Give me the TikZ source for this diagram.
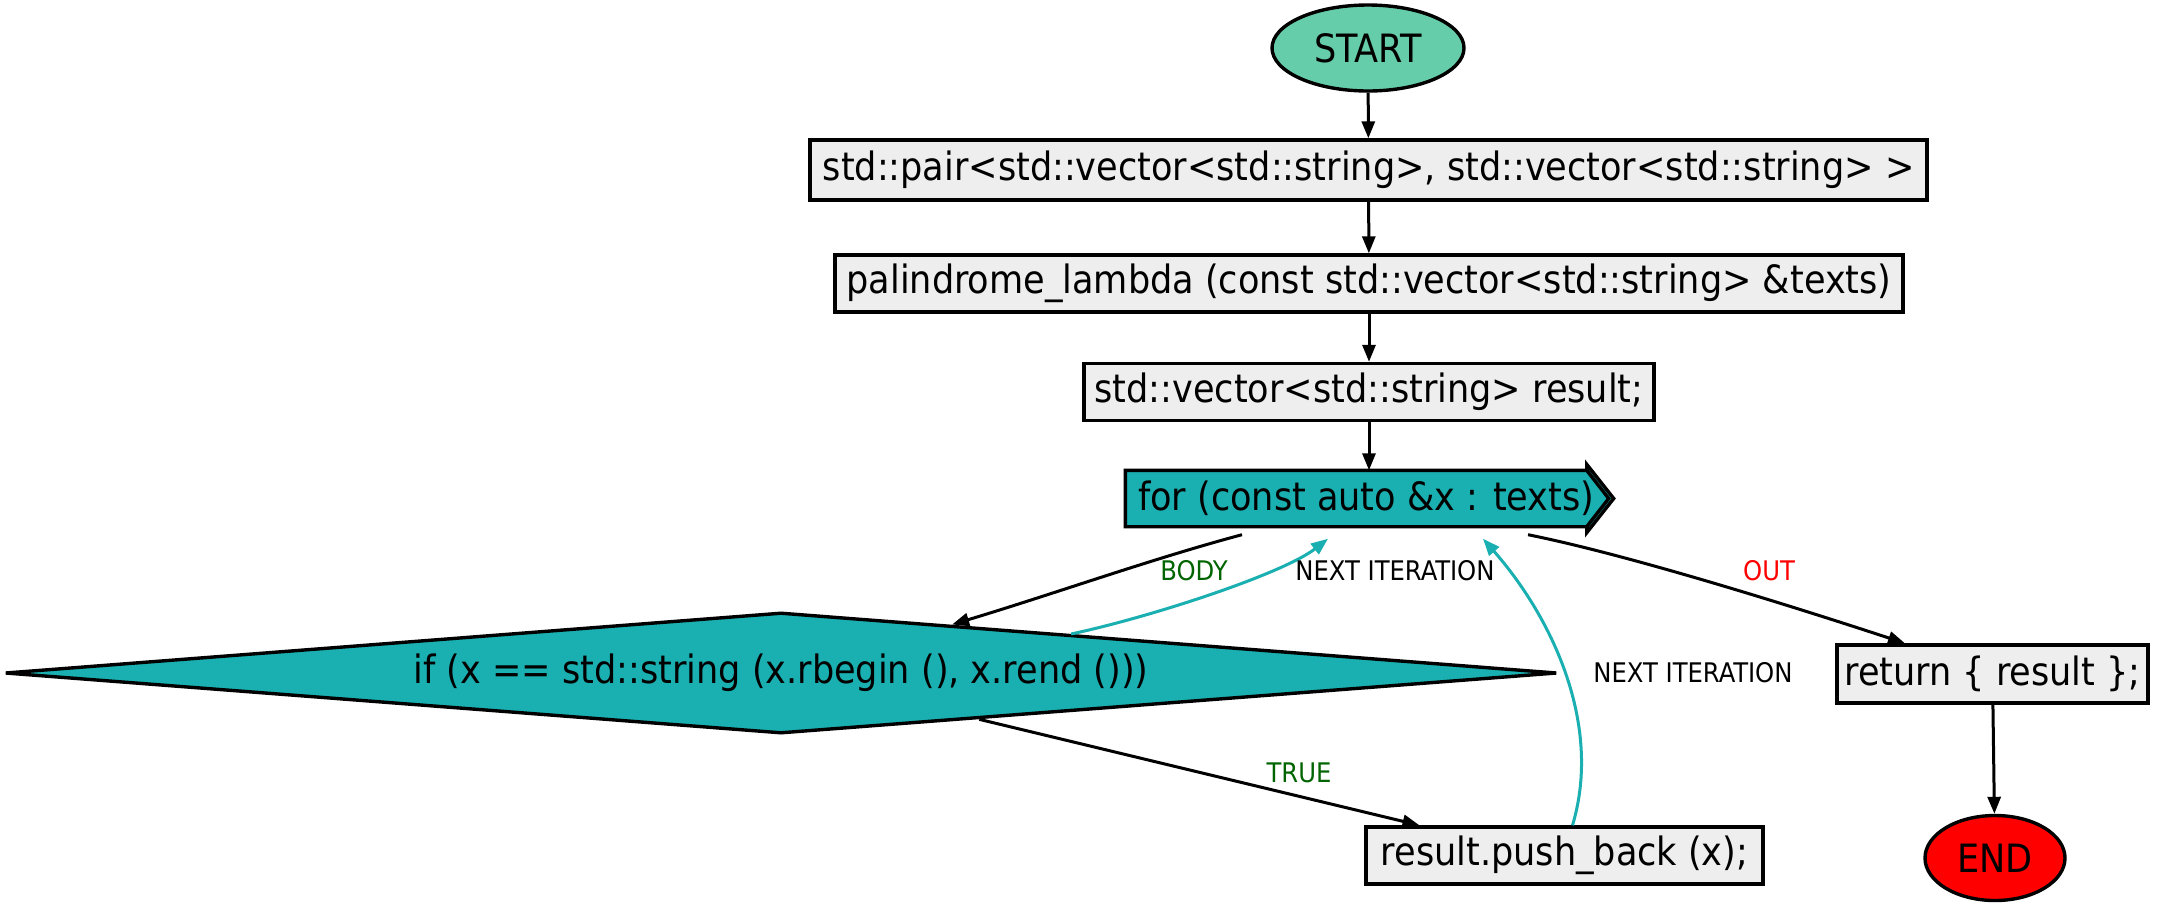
\documentclass[tikz,border=0pt]{standalone}
\usepackage{fontspec}
\setmainfont{DejaVu Sans Condensed}
\usetikzlibrary{arrows.meta,shapes.geometric,calc,backgrounds}
\definecolor{startfill}{HTML}{66CDAA}
\definecolor{boxfill}{HTML}{EEEEEE}
\definecolor{tealc}{HTML}{1AAFB0}
\definecolor{dgreen}{HTML}{006400}
\begin{document}
\begin{tikzpicture}[x=1pt,y=1pt,
  every node/.style={font=\fontsize{39}{46}\selectfont, inner sep=0pt, line width=3.4pt},
  stmt/.style={draw=black, fill=boxfill, rectangle},
  term/.style={draw=black, ellipse},
  lbl/.style={font=\fontsize{27}{32}\selectfont},
  edge/.style={line width=3pt, -{Triangle[length=17pt,width=13pt]}},
  tedge/.style={edge, draw=tealc, -{Triangle[length=17pt,width=13pt,fill=tealc]}}
]
\useasboundingbox (0,0) rectangle (2158,-906);

\node[term, fill=startfill, minimum width=192pt, minimum height=86pt] (start) at (1368,-48) {START};
\node[stmt, minimum width=1117pt, minimum height=60pt] (b1) at (1368.5,-170) {std::pair<std::vector<std::string>, std::vector<std::string> >};
\node[stmt, minimum width=1068pt, minimum height=57pt] (b2) at (1369,-283.5) {palindrome\_lambda (const std::vector<std::string> \&texts)};
\node[stmt, minimum width=570pt, minimum height=57pt] (b3) at (1369,-392) {std::vector<std::string> result;};
\node[minimum width=458pt, minimum height=53pt] (f) at (1356,-498.5) {\makebox[458pt][l]{\hspace*{11pt}for (const auto \&x : texts)}};
\begin{pgfonlayer}{background}
\fill[white] (0,0) rectangle (2158,-906);
\draw[line width=3.4pt, fill=tealc, line join=miter]
  (f.north west) -- (f.north east) -- ([yshift=6pt]f.north east) -- ([xshift=27pt]f.east)
  -- ([yshift=-6pt]f.south east) -- (f.south east) -- (f.south west) -- cycle;
\draw[line width=3.4pt, line join=miter] (f.north east) -- ([xshift=22pt]f.east) -- (f.south east);
\end{pgfonlayer}
\node[diamond, draw=black, fill=tealc, shape aspect=12.8, minimum width=1552pt, minimum height=121pt] (d) at (781,-673) {if (x == std::string (x.rbegin (), x.rend ()))};
\node[stmt, minimum width=311pt, minimum height=58pt] (r) at (1992.5,-674) {return \{ result \};};
\node[term, fill=red, minimum width=140pt, minimum height=85pt] (e) at (1995,-858) {END};
\node[stmt, minimum width=397pt, minimum height=57pt] (p) at (1564.5,-855.5) {result.push\_back (x);};

\draw[edge] (start) -- (b1);
\draw[edge] (b1) -- (b2);
\draw[edge] (b2) -- (b3);
\draw[edge] (b3) -- (b3.south |- f.north);
\draw[edge] (r) -- (e);

\coordinate (dbody) at ($(d.north)!0.22!(d.east)$);
\coordinate (dnext) at ($(d.north)!0.373!(d.east)$);
\coordinate (dtrue) at ($(d.south)!0.255!(d.east)$);

\draw[edge] ([xshift=-114pt,yshift=-8pt]f.south) .. controls +(-90,-24) and +(100,30) .. (dbody);
\draw[tedge] (dnext) .. controls +(80,17) and +(-45,-35) .. ([xshift=-28pt,yshift=-12pt]f.south);
\draw[edge] ([xshift=172pt,yshift=-8pt]f.south) .. controls +(90,-18) and +(-140,46) .. (r.north west -| 1905,0);
\draw[edge] (dtrue) -- ([xshift=-145pt]p.north);
\draw[tedge] ([xshift=8pt]p.north) .. controls +(30,100) and +(70,-80) .. ([xshift=127pt,yshift=-12pt]f.south);

\node[lbl, text=dgreen] (lbody) at (1194,-571) {BODY};
\node[lbl] (lnext1) at (1395,-571) {NEXT ITERATION};
\node[lbl, text=red] (lout) at (1769,-571) {OUT};
\node[lbl] (lnext2) at (1693,-673) {NEXT ITERATION};
\node[lbl, text=dgreen] (ltrue) at (1299,-773) {TRUE};
\end{tikzpicture}
\end{document}
